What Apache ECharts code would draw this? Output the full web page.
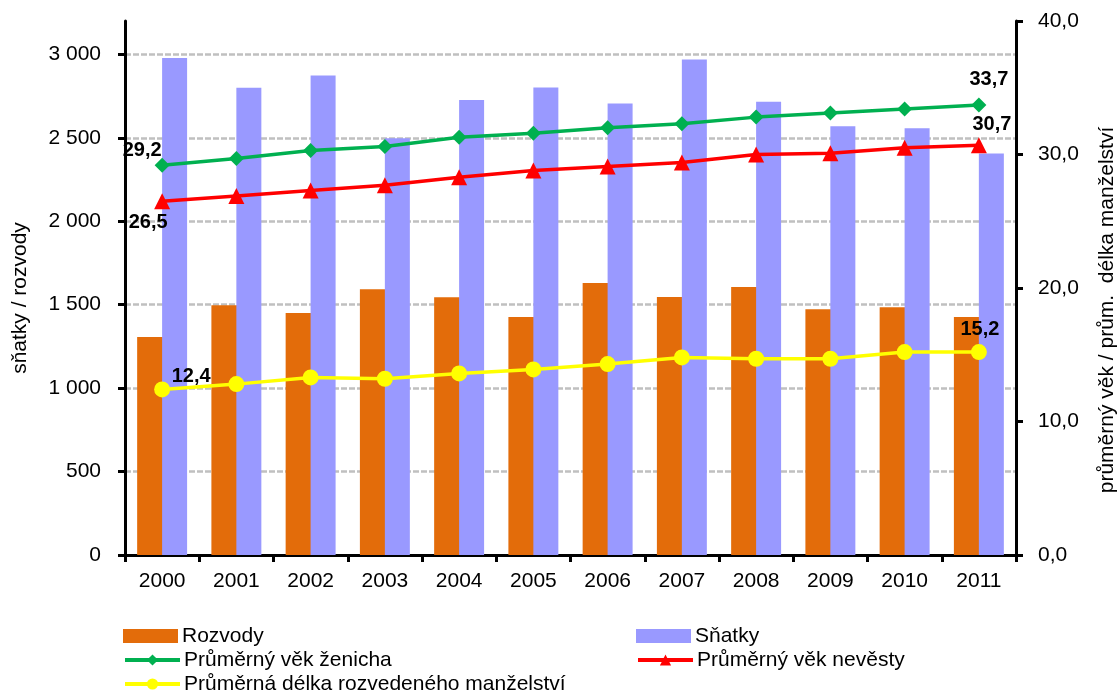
<!DOCTYPE html>
<html>
<head>
<meta charset="utf-8">
<script src="https://cdn.jsdelivr.net/npm/echarts@6/dist/echarts.min.js"></script>
<style>
html,body{margin:0;padding:0;background:#fff;}
#chart{width:1119px;height:695px;}
</style>
</head>
<body>
<div id="chart"></div>
<script>
const years = ['2000','2001','2002','2003','2004','2005','2006','2007','2008','2009','2010','2011'];
const rozvody = [1306, 1496, 1450, 1592, 1544, 1426, 1630, 1546, 1606, 1472, 1484, 1426];
const snatky = [2979, 2800, 2874, 2497, 2726, 2802, 2706, 2970, 2716, 2570, 2558, 2406];
const vekZenicha = [29.2, 29.7, 30.3, 30.6, 31.3, 31.6, 32.0, 32.3, 32.8, 33.1, 33.4, 33.7];
const vekNevesty = [26.5, 26.9, 27.3, 27.7, 28.3, 28.8, 29.1, 29.4, 30.0, 30.1, 30.5, 30.7];
const delkaManzelstvi = [12.4, 12.8, 13.3, 13.2, 13.6, 13.9, 14.3, 14.8, 14.7, 14.7, 15.2, 15.2];
const leftTicks = [0, 500, 1000, 1500, 2000, 2500, 3000];
const rightTicks = [0, 10, 20, 30, 40];

const FONT = 'Arial, "Liberation Sans", sans-serif';
const fmtComma = v => v.toFixed(1).replace('.', ',');
const fmtThousands = v => {
  if (v > 3000) return '';
  const s = String(v);
  return s.length > 3 ? s.slice(0, s.length - 3) + ' ' + s.slice(-3) : s;
};

function withEndLabels(arr, firstOffset, lastOffset) {
  const last = arr.length - 1;
  return arr.map((v, i) => {
    if (i === 0 || i === last) {
      return {
        value: v,
        label: {
          show: true,
          position: 'inside',
          offset: i === 0 ? firstOffset : lastOffset,
          formatter: p => fmtComma(p.value),
          color: '#000',
          fontWeight: 'bold',
          fontSize: 20,
          fontFamily: FONT
        }
      };
    }
    return v;
  });
}

function legendItem(name, left, centerY, icon) {
  const l = {
    orient: 'horizontal', left: left, top: centerY - 11, padding: 0,
    itemWidth: 55, itemHeight: 14, itemGap: 0,
    lineStyle: { width: 4 },
    textStyle: { fontSize: 21, color: '#000', lineHeight: 22, fontFamily: FONT, padding: [0, 0, 0, -1] },
    data: [name]
  };
  if (icon) l.icon = icon;
  return l;
}

const chart = echarts.init(document.getElementById('chart'));
chart.setOption({
  animation: false,
  backgroundColor: '#fff',
  textStyle: { fontFamily: FONT },
  grid: { left: 125, right: 103, top: 21, bottom: 140, containLabel: false, outerBoundsMode: 'none' },
  legend: [
    legendItem('Rozvody', 123, 636, 'rect'),
    legendItem('Průměrný věk ženicha', 123, 660),
    legendItem('Průměrná délka rozvedeného manželství', 123, 684),
    legendItem('Sňatky', 636, 636, 'rect'),
    legendItem('Průměrný věk nevěsty', 636, 660)
  ],
  xAxis: {
    type: 'category',
    data: years,
    boundaryGap: true,
    axisLine: { lineStyle: { color: '#000', width: 3 } },
    axisTick: { show: true, length: 7, interval: 0, lineStyle: { color: '#000', width: 3 } },
    axisLabel: { color: '#000', fontSize: 21, margin: 16, fontFamily: FONT }
  },
  yAxis: [
    {
      type: 'value',
      min: 0, max: 3200, interval: 500,
      name: 'sňatky / rozvody',
      nameLocation: 'middle',
      nameRotate: 90,
      nameGap: 94,
      nameTextStyle: { fontSize: 21, color: '#000', fontFamily: FONT, padding: [0, 20, 0, 0] },
      axisLine: { show: true, lineStyle: { color: '#000', width: 3 } },
      axisTick: { show: true, length: 7, lineStyle: { color: '#000', width: 3 }, customValues: leftTicks },
      axisLabel: { color: '#000', fontSize: 21, margin: 24, fontFamily: FONT,
                   customValues: leftTicks, formatter: v => fmtThousands(v) },
      splitLine: { show: true, showMinLine: false, showMaxLine: true,
                   lineStyle: { color: '#C0C0C0', width: 2.5, type: [6, 2] } }
    },
    {
      type: 'value',
      min: 0, max: 40, interval: 10,
      position: 'right',
      name: 'průměrný věk / prům.  délka manželství',
      nameLocation: 'middle',
      nameRotate: 90,
      nameGap: 81,
      nameTextStyle: { fontSize: 21, color: '#000', fontFamily: FONT, padding: [0, 44, 0, 0] },
      axisLine: { show: true, lineStyle: { color: '#000', width: 3 } },
      axisTick: { show: true, length: 7, lineStyle: { color: '#000', width: 3 } },
      axisLabel: { color: '#000', fontSize: 21, margin: 22, fontFamily: FONT, formatter: v => fmtComma(v) },
      splitLine: { show: false }
    }
  ],
  series: [
    {
      name: 'Rozvody', type: 'bar', yAxisIndex: 0, data: rozvody,
      barWidth: 26, barGap: '-4%',
      itemStyle: { color: '#E36C0A' }
    },
    {
      name: 'Sňatky', type: 'bar', yAxisIndex: 0, data: snatky,
      barWidth: 25,
      itemStyle: { color: '#9999FF' }
    },
    {
      name: 'Průměrný věk ženicha', type: 'line', yAxisIndex: 1,
      data: withEndLabels(vekZenicha, [-20, -15], [10, -26]),
      symbol: 'diamond', symbolSize: 15,
      lineStyle: { color: '#00B050', width: 3.5 },
      itemStyle: { color: '#00B050' },
      z: 5
    },
    {
      name: 'Průměrný věk nevěsty', type: 'line', yAxisIndex: 1,
      data: withEndLabels(vekNevesty, [-14, 21], [13, -21]),
      symbol: 'triangle', symbolSize: 16,
      lineStyle: { color: '#FF0000', width: 3.5 },
      itemStyle: { color: '#FF0000' },
      z: 5
    },
    {
      name: 'Průměrná délka rozvedeného manželství', type: 'line', yAxisIndex: 1,
      data: withEndLabels(delkaManzelstvi, [29, -13], [1, -23]),
      symbol: 'circle', symbolSize: 16,
      lineStyle: { color: '#FFFF00', width: 3.5 },
      itemStyle: { color: '#FFFF00' },
      z: 5
    }
  ]
});
</script>
</body>
</html>
